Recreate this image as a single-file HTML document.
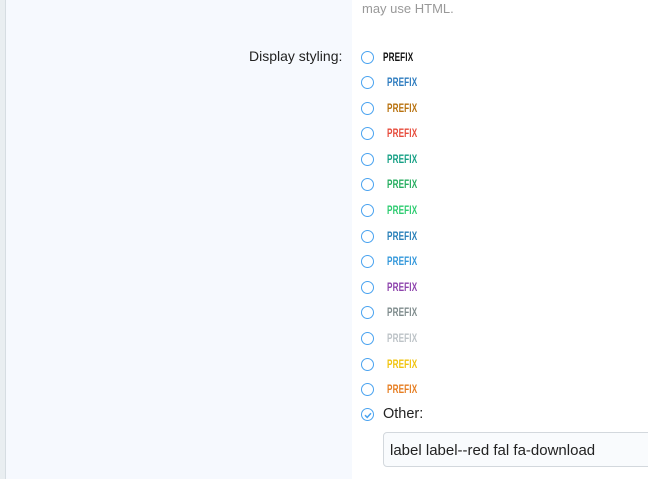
<!DOCTYPE html>
<html><head><style>
html,body{margin:0;padding:0;width:648px;height:479px;overflow:hidden;background:#fff;font-family:"Liberation Sans",sans-serif;position:relative}
.strip{position:absolute;left:0;top:0;width:5px;height:479px;background:#e9eef1;border-right:1px solid #d6dde2}
.panel{position:absolute;left:6px;top:0;width:346px;height:479px;background:#f6f9fe}
.t{position:absolute;white-space:nowrap}
.r{position:absolute;left:361px;width:11px;height:11px;border:1.5px solid #4aa3f0;border-radius:50%;margin-top:0.5px}
.p{position:absolute;left:387px;font-weight:bold;font-size:12px;transform:scaleX(0.68);transform-origin:left center;letter-spacing:0.2px;line-height:12px}
.inp{position:absolute;left:383px;top:432px;width:280px;height:33px;border:1px solid #d3d8dd;border-radius:4px;background:#f9fbfd}
</style></head><body>
<div class="strip"></div><div class="panel"></div>
<div class="t" style="left:362px;top:1px;font-size:13px;color:#999">may use HTML.</div>
<div class="t" style="left:249px;top:48px;font-size:14px;color:#222">Display styling:</div>

<div class="r" style="top:50px"></div><div class="p" style="top:51px;left:383px;color:#111">PREFIX</div>
<div class="r" style="top:75px"></div><div class="p" style="top:76px;color:#2e7cbf">PREFIX</div>
<div class="r" style="top:101px"></div><div class="p" style="top:102px;color:#b8720f">PREFIX</div>
<div class="r" style="top:126px"></div><div class="p" style="top:127px;color:#e74c3c">PREFIX</div>
<div class="r" style="top:152px"></div><div class="p" style="top:153px;color:#16a085">PREFIX</div>
<div class="r" style="top:177px"></div><div class="p" style="top:178px;color:#27ae60">PREFIX</div>
<div class="r" style="top:203px"></div><div class="p" style="top:204px;color:#2ecc71">PREFIX</div>
<div class="r" style="top:229px"></div><div class="p" style="top:230px;color:#2980b9">PREFIX</div>
<div class="r" style="top:254px"></div><div class="p" style="top:255px;color:#3498db">PREFIX</div>
<div class="r" style="top:280px"></div><div class="p" style="top:281px;color:#8e44ad">PREFIX</div>
<div class="r" style="top:305px"></div><div class="p" style="top:306px;color:#7f8c8d">PREFIX</div>
<div class="r" style="top:331px"></div><div class="p" style="top:332px;color:#bdc3c7">PREFIX</div>
<div class="r" style="top:357px"></div><div class="p" style="top:358px;color:#f1c40f">PREFIX</div>
<div class="r" style="top:382px"></div><div class="p" style="top:383px;color:#e67e22">PREFIX</div>
<div class="r" style="top:407px"></div>
<svg style="position:absolute;left:361px;top:407.5px" width="14" height="14"><path d="M4 7.2 L6.2 9.4 L10 5.2" fill="none" stroke="#4aa3f0" stroke-width="1.5"/></svg>
<div class="t" style="left:383px;top:406px;font-size:14.5px;color:#222">Other:</div>
<div class="inp"></div>
<div class="t" style="left:390px;top:442px;font-size:15px;color:#222">label label--red fal fa-download</div>
</body></html>
